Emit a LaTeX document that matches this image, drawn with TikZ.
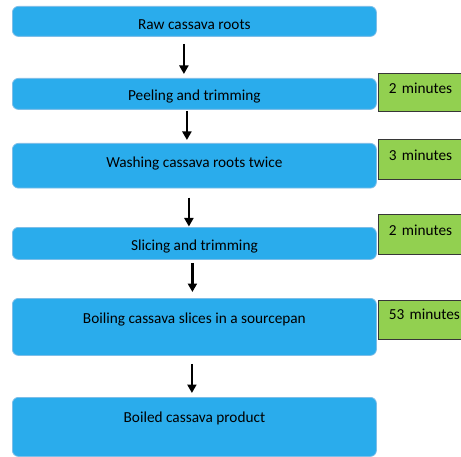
\documentclass[tikz,border=0pt]{standalone}
\usepackage{fontspec}
\setmainfont{Carlito}
\usetikzlibrary{arrows.meta}
\definecolor{boxblue}{RGB}{42,172,236}
\definecolor{boxedge}{RGB}{125,190,232}
\definecolor{timegreen}{RGB}{146,208,80}
\definecolor{timeedge}{RGB}{55,55,55}
\begin{document}
\begin{tikzpicture}[x=1bp,y=-1bp,
  stepbox/.style={draw=boxedge, line width=0.8bp, fill=boxblue, rounded corners=6bp,
    inner sep=0pt, minimum width=364bp, anchor=north west,
    font=\fontsize{15.3bp}{18bp}\selectfont, text=black},
  timebox/.style={draw=timeedge, line width=0.9bp, fill=timegreen,
    inner xsep=11bp, inner ysep=0pt, text width=80bp, align=left, anchor=north west,
    font=\fontsize{15.3bp}{18bp}\selectfont, text=black},
  flow/.style={-{Triangle[width=9bp,length=8.5bp]}, line width=2.2bp, black}]
\useasboundingbox (0,0) rectangle (461,457);

\node[stepbox, text height=23bp, text depth=7bp] (raw) at (12,6) {Raw cassava roots};
\node[stepbox, text height=22bp, text depth=9bp] (peel) at (12,78) {Peeling and trimming};
\node[stepbox, text height=23.7bp, text depth=21bp] (wash) at (12,143) {Washing cassava roots twice};
\node[stepbox, text height=23bp, text depth=9bp] (slice) at (12,227) {Slicing and trimming};
\node[stepbox, text height=25.3bp, text depth=31.7bp] (boil) at (12,298) {Boiling cassava slices in a sourcepan};
\node[stepbox, text height=24.7bp, text depth=34.3bp] (prod) at (12,397) {Boiled cassava product};

\node[timebox, text height=20bp, text depth=18.3bp] (t1) at (377.5,72.7) {2 minutes};
\node[timebox, text height=21bp, text depth=19bp] (t2) at (377.5,139) {3 minutes};
\node[timebox, text height=21bp, text depth=19bp] (t3) at (377.5,214) {2 minutes};
\node[timebox, text height=19.3bp, text depth=19.7bp] (t4) at (377.5,300) {53 minutes};

\draw[flow, shorten <=7bp, shorten >=4bp] ([xshift=-10.5bp]raw.south) -- ([xshift=-10.5bp]peel.north);
\draw[flow, shorten <=1bp, shorten >=3bp] ([xshift=-7.5bp]peel.south) -- ([xshift=-7.5bp]wash.north);
\draw[flow, shorten <=9bp, shorten >=0.5bp] ([xshift=-5.5bp]wash.south) -- ([xshift=-5.5bp]slice.north);
\draw[flow, shorten <=3bp, shorten >=6bp] ([xshift=-2bp]slice.south) -- ([xshift=-2bp]boil.north);
\draw[flow, shorten <=8bp, shorten >=4bp] ([xshift=-2.5bp]boil.south) -- ([xshift=-2.5bp]prod.north);
\end{tikzpicture}
\end{document}
